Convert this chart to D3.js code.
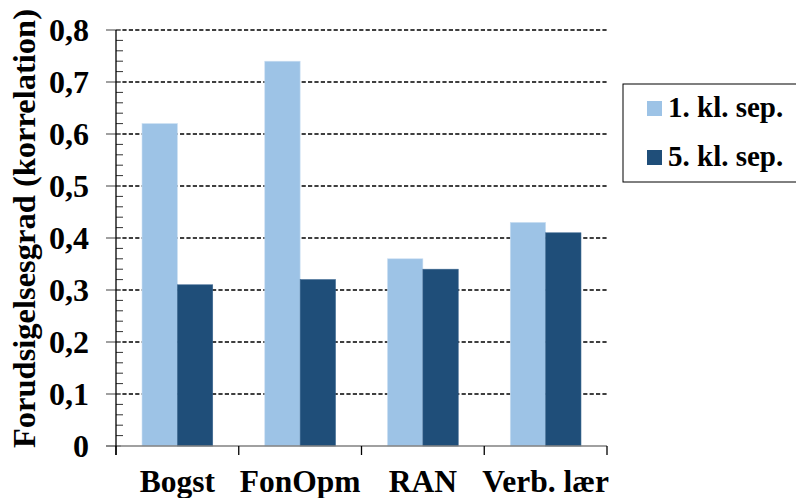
<!DOCTYPE html>
<html>
<head>
<meta charset="utf-8">
<script src="https://cdn.jsdelivr.net/npm/d3@7"></script>
<style>
  html, body { margin: 0; padding: 0; background: #fff; }
  svg { display: block; }
  text { font-family: "Liberation Serif", "Times New Roman", serif; font-weight: bold; fill: #000; }
</style>
</head>
<body>
<svg id="chart" width="796" height="498"></svg>
<script>
const categories = ["Bogst", "FonOpm", "RAN", "Verb. lær"];
const seriesNames = ["1. kl. sep.", "5. kl. sep."];
const series1 = [0.62, 0.74, 0.36, 0.43];
const series2 = [0.31, 0.32, 0.34, 0.41];
const colors = ["#9DC3E6", "#1F4E79"];
const yTicks = [0, 0.1, 0.2, 0.3, 0.4, 0.5, 0.6, 0.7, 0.8];
const yTickLabels = ["0", "0,1", "0,2", "0,3", "0,4", "0,5", "0,6", "0,7", "0,8"];
const yTitle = "Forudsigelsesgrad (korrelation)";

const svg = d3.select("#chart");
const plotLeft = 116, plotRight = 607, plotTop = 30, plotBottom = 446;

const y = d3.scaleLinear().domain([0, 0.8]).range([plotBottom, plotTop]);
const x0 = d3.scaleBand().domain(categories).range([plotLeft, plotRight]).padding(0);
const bw = x0.bandwidth();
const x1 = d3.scaleBand().domain(seriesNames).range([bw * 0.212, bw * 0.788]).padding(0);

// Gridlines (dashed)
svg.append("g").selectAll("line")
  .data(yTicks.filter(t => t > 0))
  .join("line")
  .attr("x1", plotLeft).attr("x2", plotRight)
  .attr("y1", d => y(d)).attr("y2", d => y(d))
  .attr("stroke", "#000").attr("stroke-width", 1.5)
  .attr("stroke-dasharray", "4.2,2.2");

// Bars
const data = categories.map((c, i) => ({ c, vals: [series1[i], series2[i]] }));
const groups = svg.append("g").selectAll("g")
  .data(data).join("g")
  .attr("transform", d => `translate(${x0(d.c)},0)`);
groups.selectAll("rect")
  .data(d => d.vals.map((v, j) => ({ v, j })))
  .join("rect")
  .attr("x", d => x1(seriesNames[d.j]))
  .attr("width", x1.bandwidth())
  .attr("y", d => y(d.v))
  .attr("height", d => y(0) - y(d.v))
  .attr("fill", d => colors[d.j])
  .attr("stroke", d => d.j === 0 ? "#c9def2" : "#3a6690")
  .attr("stroke-width", 0.6);

// Minor ticks (inside)
const minor = d3.range(0, 0.8001, 0.02).filter(v => Math.abs(Math.round(v * 10) - v * 10) > 0.01);
svg.append("g").selectAll("line")
  .data(minor).join("line")
  .attr("x1", plotLeft).attr("x2", plotLeft + 7)
  .attr("y1", d => y(d)).attr("y2", d => y(d))
  .attr("stroke", "#333").attr("stroke-width", 1);

// Major ticks (outside)
svg.append("g").selectAll("line")
  .data(yTicks).join("line")
  .attr("x1", plotLeft - 10).attr("x2", plotLeft + 5)
  .attr("y1", d => y(d)).attr("y2", d => y(d))
  .attr("stroke", "#808080").attr("stroke-width", 1.5);

// X axis line
svg.append("line")
  .attr("x1", plotLeft - 10).attr("x2", plotRight)
  .attr("y1", y(0)).attr("y2", y(0))
  .attr("stroke", "#808080").attr("stroke-width", 1.5);

// X ticks at band boundaries
const bounds = categories.map(c => x0(c)).concat([x0(categories[categories.length - 1]) + bw]);
svg.append("g").selectAll("line")
  .data(bounds).join("line")
  .attr("x1", d => d).attr("x2", d => d)
  .attr("y1", y(0)).attr("y2", y(0) + 9)
  .attr("stroke", "#000").attr("stroke-width", 1.3);

// Y axis line
svg.append("line")
  .attr("x1", plotLeft).attr("x2", plotLeft)
  .attr("y1", plotTop).attr("y2", y(0) + 9)
  .attr("stroke", "#000").attr("stroke-width", 1.3);

// Y tick labels
svg.append("g").selectAll("text")
  .data(yTicks).join("text")
  .attr("x", 89).attr("y", d => y(d))
  .attr("dy", "0.34em")
  .attr("text-anchor", "end")
  .attr("font-size", 32)
  .text((d, i) => yTickLabels[i]);

// Category labels
svg.append("g").selectAll("text")
  .data(categories).join("text")
  .attr("x", d => x0(d) + bw / 2).attr("y", 492)
  .attr("text-anchor", "middle")
  .attr("font-size", 31.5)
  .text(d => d);

// Y title
svg.append("text")
  .attr("transform", `translate(35,${(14 + 443) / 2}) rotate(-90)`)
  .attr("text-anchor", "middle")
  .attr("font-size", 32.5)
  .text(yTitle);

// Legend
const lg = svg.append("g");
lg.append("rect")
  .attr("x", 623).attr("y", 84).attr("width", 180).attr("height", 98)
  .attr("fill", "#fff").attr("stroke", "#000").attr("stroke-width", 1);
seriesNames.forEach((s, i) => {
  const yy = 101 + i * 49;
  lg.append("rect").attr("x", 647).attr("y", yy).attr("width", 15).attr("height", 15).attr("fill", colors[i]);
  lg.append("text").attr("x", 668).attr("y", yy + 16).attr("font-size", 29).text(s);
});
</script>
</body>
</html>
